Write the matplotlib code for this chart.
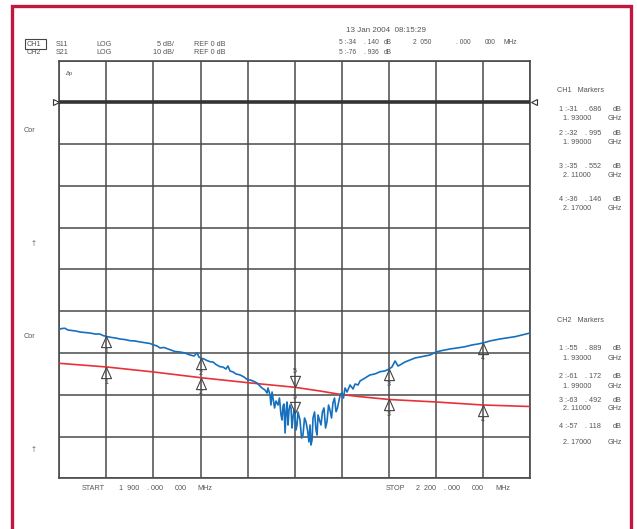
import matplotlib
matplotlib.use('Agg')
import matplotlib.pyplot as plt
from matplotlib.patches import Rectangle
import numpy as np

plt.rcParams['font.family'] = ['Liberation Sans', 'DejaVu Sans']

# CH1 (S11, 5 dB/div) trace
ch1_freq = [1900.0, 1901.7, 1903.6, 1905.5, 1908.1, 1910.6, 1913.2, 1916.4, 1919.6, 1922.8,
            1925.9, 1927.8, 1930.2, 1933.6, 1936.1, 1938.7, 1941.9, 1945.1, 1948.2, 1951.4,
            1954.6, 1957.8, 1960.2, 1962.3, 1964.2, 1966.7, 1969.3, 1971.8, 1973.7, 1976.9,
            1980.1, 1983.3, 1985.9, 1987.8, 1989.0, 1990.1, 1992.2, 1994.1, 1996.0, 1998.0,
            1999.9, 2002.4, 2004.3, 2006.2, 2007.5, 2008.8, 2010.7, 2012.6, 2015.2, 2017.7,
            2020.1, 2021.6, 2023.5, 2026.0, 2027.9, 2029.2, 2031.1, 2032.4, 2034.3, 2034.9,
            2036.2, 2038.1, 2039.4, 2041.3, 2042.6, 2043.9, 2045.1, 2046.4, 2047.7, 2048.9,
            2050.2, 2051.5, 2053.4, 2055.3, 2057.2, 2059.1, 2060.4, 2061.7, 2063.6, 2064.9,
            2066.8, 2068.7, 2070.6, 2072.5, 2074.4, 2076.4, 2078.3, 2080.2, 2082.1, 2083.4,
            2085.3, 2087.2, 2088.5, 2090.4, 2091.7, 2094.8, 2098.0, 2101.2, 2104.4, 2107.6,
            2110.1, 2112.0, 2114.0, 2115.9, 2117.1, 2120.3, 2123.5, 2126.7, 2129.9, 2133.1,
            2136.3, 2140.1, 2142.6, 2145.8, 2149.0, 2153.5, 2158.6, 2163.0, 2166.9, 2170.0,
            2174.5, 2177.7, 2180.9, 2185.3, 2190.4, 2194.9, 2200.0]
ch1_db = [-27.16, -27.07, -27.04, -27.25, -27.31, -27.37, -27.49, -27.55, -27.61, -27.73,
          -27.73, -27.91, -28.03, -28.15, -28.21, -28.33, -28.39, -28.53, -28.56, -28.68,
          -28.77, -28.86, -29.04, -29.16, -29.40, -29.34, -29.52, -29.70, -29.82, -29.88,
          -30.00, -30.24, -30.36, -29.97, -30.48, -30.60, -30.72, -30.90, -31.04, -31.08,
          -31.38, -31.64, -31.68, -31.92, -31.56, -32.15, -32.27, -32.51, -32.63, -32.87,
          -33.23, -33.23, -33.35, -33.59, -33.95, -34.19, -34.43, -34.79, -35.03, -36.23,
          -35.39, -35.75, -36.23, -37.42, -36.34, -39.58, -35.87, -36.82, -36.58, -37.78,
          -37.42, -38.62, -38.02, -39.82, -38.22, -40.65, -41.01, -37.78, -39.22, -37.42,
          -38.62, -36.58, -38.22, -36.82, -35.98, -37.03, -35.63, -34.79, -34.19, -34.67,
          -33.83, -34.31, -33.71, -33.83, -33.35, -32.99, -32.63, -32.51, -32.24, -32.15,
          -31.92, -31.68, -30.96, -31.56, -31.44, -31.08, -30.84, -30.60, -30.48, -30.36,
          -30.24, -29.88, -29.76, -29.64, -29.52, -29.40, -29.25, -29.04, -28.92, -28.80,
          -28.56, -28.44, -28.32, -28.20, -28.05, -27.85, -27.61]

# extra readings in the noisy notch around the 2.05 GHz marker
notch_freq = [2033.0, 2035.6, 2037.2, 2040.3, 2042.0, 2043.2, 2044.5, 2045.8, 2047.0,
              2048.3, 2049.6, 2050.8, 2052.1, 2054.4, 2056.3, 2058.2, 2059.8, 2061.1,
              2062.7, 2064.3, 2065.8, 2067.7, 2069.7, 2071.6, 2073.5, 2075.4, 2077.3,
              2079.2, 2081.1]
notch_db = [-34.19, -34.67, -36.58, -35.39, -38.02, -36.11, -37.06, -38.62, -36.23,
            -38.98, -36.82, -39.22, -37.06, -40.18, -37.78, -39.22, -38.62, -40.41,
            -37.06, -39.82, -38.02, -37.06, -38.98, -36.23, -37.78, -35.39, -36.58,
            -34.91, -35.39]

# CH2 (S21, 10 dB/div) trace
ch2_freq = [1900.0, 1930.2, 1960.2, 1990.1, 2020.1, 2050.1, 2066.1, 2079.5, 2091.7,
            2110.1, 2140.1, 2170.0, 2200.0]
ch2_db = [-62.47, -63.35, -64.55, -65.91, -67.11, -68.21, -69.10, -69.94, -70.46,
          -71.13, -71.73, -72.45, -72.81]

marker_freqs = [1930, 1990, 2110, 2170]
marker_names = ['1', '2', '3', '4']
active_freq = 2050

ch1_readout = [('1 :-31', '. 686', '1. 93000'), ('2 :-32', '. 995', '1. 99000'),
               ('3 :-35', '. 552', '2. 11000'), ('4 :-36', '. 146', '2. 17000')]
ch2_readout = [('1 :-55', '. 889', '1. 93000'), ('2 :-61', '. 172', '1. 99000'),
               ('3 :-63', '. 492', '2. 11000'), ('4 :-57', '. 118', '2. 17000')]

BLUE = '#1670bd'
RED = '#e8323a'
GRID = '#4a4a4a'
TXT = '#555555'
FRAME = '#c4173f'

W, H = 637, 529
fig = plt.figure(figsize=(W / 100, H / 100), dpi=100)
fig.patch.set_facecolor('white')

# plot area in pixels: left 59.3, right 530, top 60.6, bottom 478.3
x0, x1, y0, y1 = 59.3, 530.0, 60.6, 478.3
ax = fig.add_axes([x0 / W, 1 - y1 / H, (x1 - x0) / W, (y1 - y0) / H])
ax.set_xlim(1900, 2200)
ax.set_ylim(-45, 5)
ax.set_xticks(np.linspace(1900, 2200, 11))
ax.set_yticks(np.arange(-45, 6, 5))
ax.tick_params(length=0, labelleft=False, labelbottom=False)
ax.grid(True, color=GRID, lw=1.1)
for s in ax.spines.values():
    s.set_color(GRID)
    s.set_linewidth(1.2)
ax.axhline(0, color='#333333', lw=2.6, zorder=3)

tri_up = [(0, 0), (-0.45, -1), (0.45, -1), (0, 0)]
tri_dn = [(0, 0), (-0.45, 1), (0.45, 1), (0, 0)]


def draw_trace(a, freq, db, color):
    a.plot(freq, db, color=color, lw=1.2, zorder=4)
    vals = np.interp(marker_freqs, freq, db)
    a.plot(marker_freqs, vals, ls='none', marker=tri_up, markersize=16,
           mfc='none', mec='#444444', mew=0.8, zorder=5)
    for f, v, n in zip(marker_freqs, vals, marker_names):
        a.annotate(n, (f, v), xytext=(0, -11), textcoords='offset points',
                   ha='center', va='center', fontsize=5, color='#444444')
    va = np.interp(active_freq, freq, db)
    a.plot([active_freq], [va], ls='none', marker=tri_dn, markersize=16,
           mfc='none', mec='#444444', mew=0.8, zorder=5)
    a.annotate('5', (active_freq, va), xytext=(0, 11.5), textcoords='offset points',
               ha='center', va='center', fontsize=5, color='#444444')


# CH2 on its own 10 dB/div scale
ax2 = ax.twinx()
ax2.set_ylim(-90, 10)
ax2.axis('off')
draw_trace(ax2, ch2_freq, ch2_db, RED)

# CH1 on top
f_all = np.array(ch1_freq + notch_freq)
d_all = np.array(ch1_db + notch_db)
order = np.argsort(f_all)
ax3 = ax.twinx()
ax3.set_ylim(-45, 5)
ax3.axis('off')
draw_trace(ax3, f_all[order], d_all[order], BLUE)

# overlay in pixel coordinates for texts and frame
ov = fig.add_axes([0, 0, 1, 1])
ov.set_xlim(0, W)
ov.set_ylim(H, 0)
ov.axis('off')
ov.patch.set_alpha(0)


def t(x, y, s, size=5.2, ha='left'):
    ov.text(x, y, s, ha=ha, va='center', fontsize=size, color=TXT)


# header
ov.add_patch(Rectangle((25, 38.5), 21, 10, fill=False, ec='#444444', lw=0.8))
t(27, 44, 'CH1')
t(27, 53, 'CH2')
t(56, 44, 'S11')
t(56, 53, 'S21')
t(96, 44, 'LOG')
t(96, 53, 'LOG')
t(174, 44, '5 dB/', ha='right')
t(174, 53, '10 dB/', ha='right')
t(194, 44, 'REF 0 dB')
t(194, 53, 'REF 0 dB')
t(346, 30, '13 Jan 2004  08:15:29', size=5.8)
t(339, 43, '5 :-34', size=4.8)
t(364, 43, '. 140', size=4.8)
t(384, 43, 'dB', size=4.8)
t(413, 43, '2  050', size=4.8)
t(456, 43, '. 000', size=4.8)
t(485, 43, '000', size=4.8)
t(504, 43, 'MHz', size=4.8)
t(339, 53, '5 :-76', size=4.8)
t(364, 53, '. 936', size=4.8)
t(384, 53, 'dB', size=4.8)

# left labels
t(24, 130, 'Cor')
t(24, 337, 'Cor')
t(32, 244, '†')
t(32, 450, '†')
t(66, 73, 'Δp', size=4.2)

# reference pointers
ov.plot([55.5], [102], marker='>', ms=4.5, mfc='white', mec='#333333', mew=0.8)
ov.plot([533.5], [102], marker='<', ms=4.5, mfc='white', mec='#333333', mew=0.8)

# marker readouts
t(557, 91, 'CH1   Markers')
ch1_rows = [109.3, 133.3, 166, 199.3]
for (a, b, f), y in zip(ch1_readout, ch1_rows):
    t(559, y, a)
    t(585, y, b)
    t(622, y, 'dB', ha='right')
    t(563, y + 9.5, f)
    t(622, y + 9.5, 'GHz', ha='right')

t(557, 321, 'CH2   Markers')
ch2_rows = [(348.3, 358.3), (376.7, 386), (400.7, 408.7), (426.7, 442.3)]
for (a, b, f), (ya, yb) in zip(ch2_readout, ch2_rows):
    t(559, ya, a)
    t(585, ya, b)
    t(622, ya, 'dB', ha='right')
    t(563, yb, f)
    t(622, yb, 'GHz', ha='right')

# start / stop
t(82, 488, 'START')
t(119, 488, '1  900')
t(147, 488, '. 000')
t(175, 488, '000')
t(197, 488, 'MHz')
t(386, 488, 'STOP')
t(416, 488, '2  200')
t(444, 488, '. 000')
t(472, 488, '000')
t(495, 488, 'MHz')

# crimson frame (open at the bottom)
ov.plot([11.5, 11.5, 630.5, 630.5], [H + 5, 5.5, 5.5, H + 5], color=FRAME, lw=2.4,
        solid_joinstyle='miter', clip_on=False)

fig.savefig('out.png', dpi=100)
